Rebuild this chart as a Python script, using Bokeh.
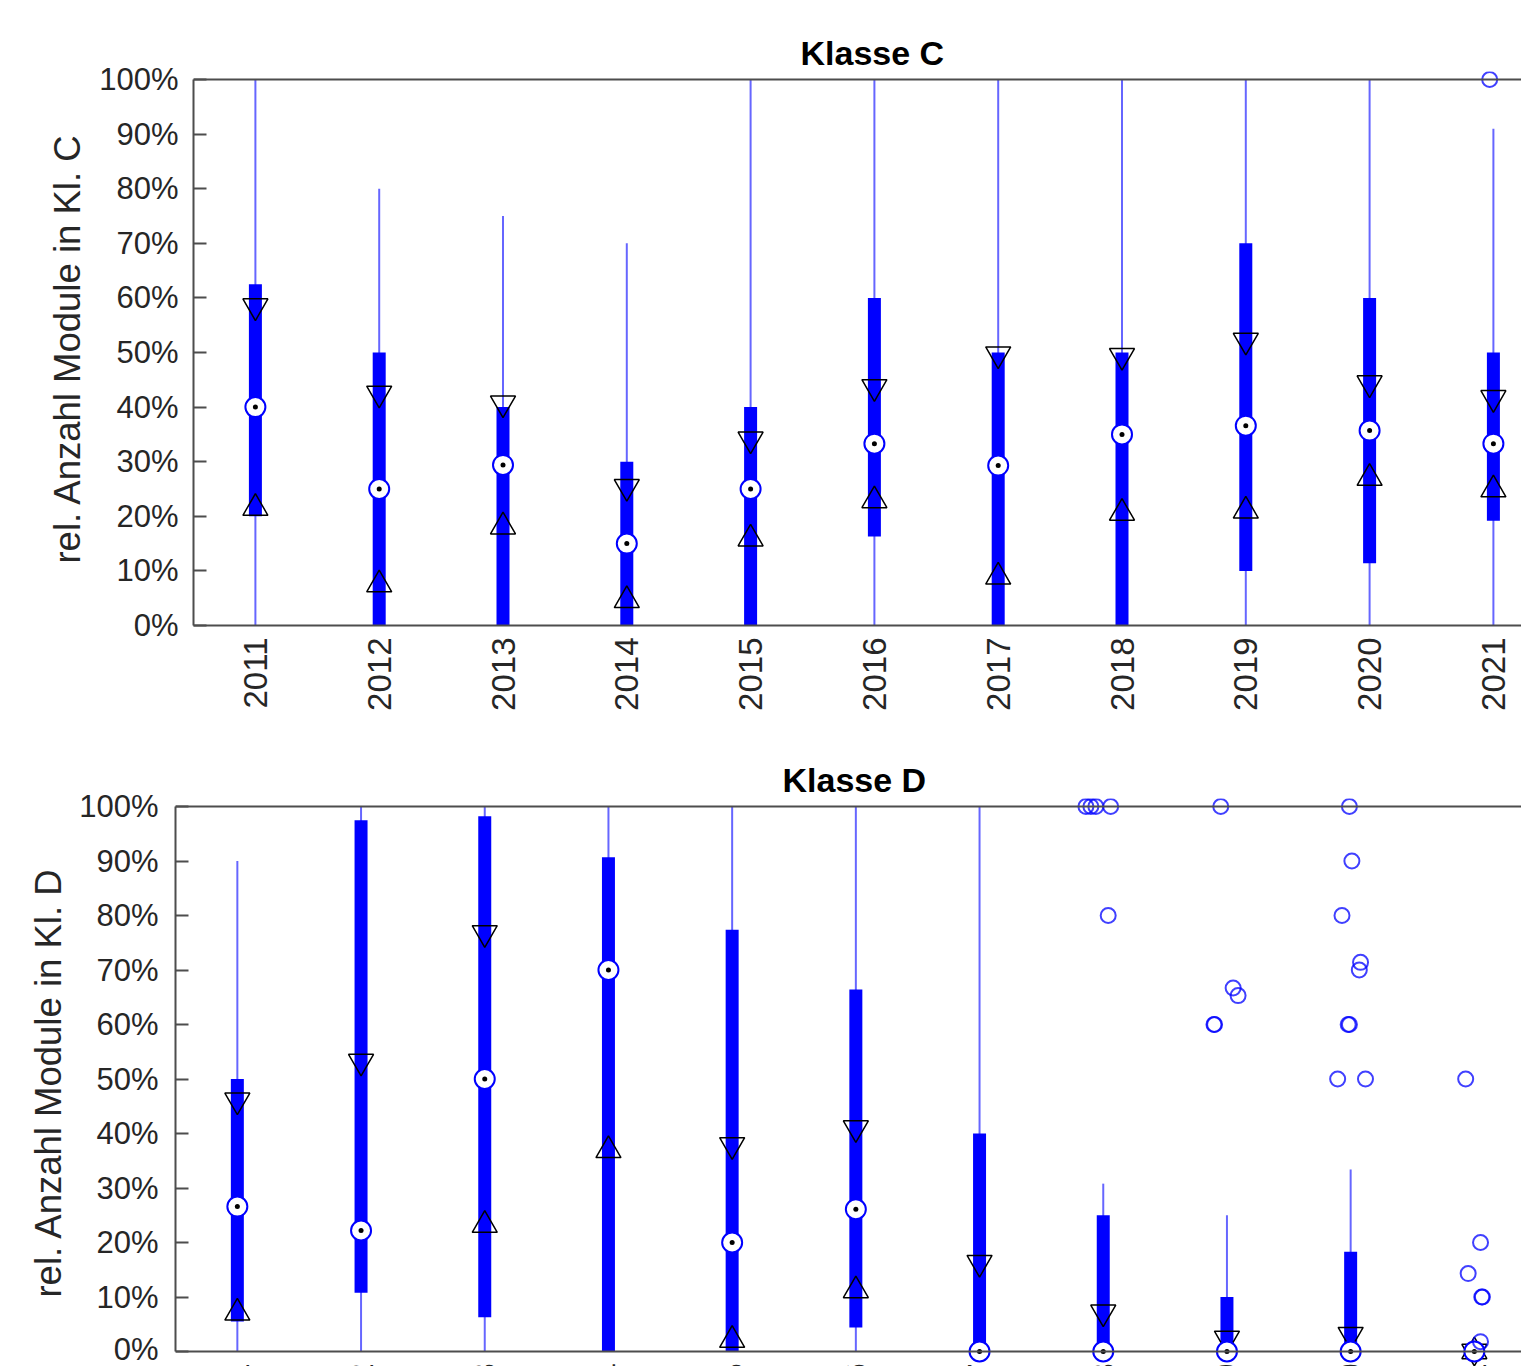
import math
from bokeh.plotting import figure
from bokeh.models import ColumnDataSource, FixedTicker, PrintfTickFormatter, Span, Range1d
from bokeh.embed import file_html
from bokeh.resources import INLINE

# ---------------- data (percent) ----------------
years = [2011, 2012, 2013, 2014, 2015, 2016, 2017, 2018, 2019, 2020, 2021]
year_labels = ["2011", "2012", "2013", "2014", "2015", "2016",
               "2017", "2018", "2019", "2020", "2021"]

# Klasse C
c_whisker_low  = [0, 0, 0, 0, 0, 0, 0, 0, 0, 0, 0]
c_q1           = [20.0, 0, 0, 0, 0, 16.3, 0, 0, 10.0, 11.4, 19.2]
c_median       = [40.0, 25.0, 29.4, 15.0, 25.0, 33.3, 29.3, 35.0, 36.6, 35.7, 33.3]
c_q3           = [62.5, 50.0, 40.0, 30.0, 40.0, 60.0, 50.0, 50.0, 70.0, 60.0, 50.0]
c_whisker_high = [100, 80, 75, 70, 100, 100, 100, 100, 100, 100, 91]
c_notch_low    = [21.5, 7.5, 18.1, 4.6, 15.9, 22.9, 8.9, 20.6, 21.0, 27.0, 24.9]
c_notch_high   = [58.5, 42.5, 40.7, 25.4, 34.1, 43.7, 49.7, 49.4, 52.2, 44.4, 41.7]
c_out_year     = [2021]
c_out_value    = [100.0]
c_out_jitter   = [-0.03]

# Klasse D
d_whisker_low  = [0, 0, 0, 0, 0, 0, 0, 0, 0, 0, 0]
d_q1           = [5.5, 10.8, 6.3, 0, 0, 4.4, 0, 0, 0, 0, 0]
d_median       = [26.6, 22.2, 50.0, 70.0, 20.0, 26.1, 0, 0, 0, 0, 0]
d_q3           = [50.0, 97.5, 98.2, 90.7, 77.4, 66.4, 40.0, 25.0, 10.0, 18.3, 0]
d_whisker_high = [90, 100, 100, 100, 100, 100, 100, 30.8, 25.0, 33.4, 0]
d_notch_low    = [7.1, -8.8, 23.2, 36.9, 2.1, 11.2, -16.3, -7.2, -2.4, -3.1, 0]
d_notch_high   = [46.1, 53.2, 76.8, 103.1, 37.9, 41.0, 16.3, 7.2, 2.4, 3.1, 0]
d_out_year     = [2018, 2018, 2018, 2018, 2018,
                  2019, 2019, 2019, 2019, 2019,
                  2020, 2020, 2020, 2020, 2020, 2020, 2020, 2020, 2020,
                  2021, 2021, 2021, 2021, 2021, 2021]
d_out_value    = [100, 100, 100, 100, 80,
                  100, 66.7, 65.3, 60, 60,
                  100, 90, 80, 71.4, 70, 60, 60, 50, 50,
                  50, 20, 14.3, 10, 10, 1.8]
d_out_jitter   = [-0.14, -0.10, -0.06, 0.06, 0.04,
                  -0.05, 0.05, 0.09, -0.105, -0.10,
                  -0.01, 0.01, -0.07, 0.08, 0.07, -0.02, -0.01, -0.105, 0.12,
                  -0.07, 0.05, -0.05, 0.065, 0.06, 0.05]

# ---------------- style ----------------
FONT = "Liberation Sans"
AX_COL = "#4d4d4d"
TXT_COL = "#262626"
BLUE = "#0000ff"
UNIT = 123.8          # px per category
BOX_W = 13 / UNIT
PAGE_W = 1521
NAN = float("nan")


def visible(vals):
    # like MATLAB clipping: markers whose centre lies outside the axes are not drawn
    return [v if 0 <= v <= 100 else NAN for v in vals]


def style_axes(p, title, ylabel, ylabel_standoff, tick_standoff, title_offset):
    p.outline_line_color = None
    p.background_fill_color = "white"
    p.border_fill_color = "white"
    p.xgrid.visible = False
    p.ygrid.visible = False
    p.title.text = title
    p.title.text_font = FONT
    p.title.text_font_size = "34px"
    p.title.text_font_style = "bold"
    p.title.text_color = "black"
    p.title.align = "left"
    p.title.offset = title_offset
    p.title.standoff = 0
    ya = p.yaxis[0]
    ya.ticker = FixedTicker(ticks=list(range(0, 101, 10)))
    ya.formatter = PrintfTickFormatter(format="%d%%")
    ya.bounds = (0, 100)
    ya.major_tick_in = 13
    ya.major_tick_out = 0
    ya.minor_tick_line_color = None
    ya.axis_line_color = AX_COL
    ya.axis_line_width = 2
    ya.major_tick_line_color = AX_COL
    ya.major_tick_line_width = 2
    ya.major_label_text_font = FONT
    ya.major_label_text_font_size = "31px"
    ya.major_label_text_color = TXT_COL
    ya.major_label_standoff = tick_standoff
    ya.axis_label = ylabel
    ya.axis_label_text_font = FONT
    ya.axis_label_text_font_size = "36.5px"
    ya.axis_label_text_font_style = "normal"
    ya.axis_label_text_color = TXT_COL
    ya.axis_label_standoff = ylabel_standoff
    p.add_layout(Span(location=100, dimension="width", line_color=AX_COL, line_width=2))


def draw_boxes(p, wlo, q1, med, q3, whi, nlo, nhi, oyear, oval, ojit):
    src = ColumnDataSource(dict(x=years, wlo=wlo, q1=q1, med=med, q3=q3,
                                whi=whi, nlo=visible(nlo), nhi=visible(nhi)))
    p.segment(x0="x", y0="wlo", x1="x", y1="whi", source=src,
              line_color=BLUE, line_alpha=0.6, line_width=2)
    p.vbar(x="x", bottom="q1", top="q3", width=BOX_W, source=src,
           fill_color=BLUE, line_color=None)
    p.scatter(x="x", y="nhi", marker="inverted_triangle", size=25, source=src,
              fill_color=None, line_color="black", line_width=1.5)
    p.scatter(x="x", y="nlo", marker="triangle", size=25, source=src,
              fill_color=None, line_color="black", line_width=1.5)
    p.scatter(x="x", y="med", marker="circle", size=20, source=src,
              fill_color="white", line_color=BLUE, line_width=2)
    p.scatter(x="x", y="med", marker="circle", size=5, source=src,
              fill_color="black", line_color=None)
    osrc = ColumnDataSource(dict(x=[yy + j for yy, j in zip(oyear, ojit)], y=oval))
    p.scatter(x="x", y="y", marker="circle", size=15, source=osrc,
              fill_color=None, line_color=BLUE, line_alpha=0.75, line_width=2)


# ---------------- top panel: Klasse C ----------------
t_h, t_left, t_top, t_frame_h, t_px = 720, 193, 71, 554, 546.0 / 100
p1 = figure(width=PAGE_W, height=t_h, output_backend="svg", toolbar_location=None,
            x_range=Range1d(2010.5, 2010.5 + (PAGE_W - t_left) / UNIT),
            y_range=Range1d(0, t_frame_h / t_px))
p1.min_border_left = t_left
p1.min_border_right = 0
p1.min_border_top = t_top
p1.min_border_bottom = t_h - t_top - t_frame_h
style_axes(p1, "Klasse C", "rel. Anzahl Module in Kl. C", 8, 15, 607)
xa = p1.xaxis[0]
xa.ticker = FixedTicker(ticks=years)
xa.major_label_overrides = {y: s for y, s in zip(years, year_labels)}
xa.major_label_orientation = math.pi / 2
xa.major_tick_in = 0
xa.major_tick_out = 0
xa.minor_tick_line_color = None
xa.axis_line_color = AX_COL
xa.axis_line_width = 2
xa.major_label_text_font = FONT
xa.major_label_text_font_size = "33px"
xa.major_label_text_color = TXT_COL
xa.major_label_standoff = 12
draw_boxes(p1, c_whisker_low, c_q1, c_median, c_q3, c_whisker_high,
           c_notch_low, c_notch_high, c_out_year, c_out_value, c_out_jitter)

# ---------------- bottom panel: Klasse D ----------------
b_h, b_left, b_top = 646, 175, 78
b_frame_h = b_h - b_top
b_px = 545.0 / 100
b_below0 = 15 / b_px
p2 = figure(width=PAGE_W, height=b_h, output_backend="svg", toolbar_location=None,
            x_axis_location=None,
            x_range=Range1d(2010.5, 2010.5 + (PAGE_W - b_left) / 123.7),
            y_range=Range1d(-b_below0, -b_below0 + b_frame_h / b_px))
p2.min_border_left = b_left
p2.min_border_right = 0
p2.min_border_top = b_top
p2.min_border_bottom = 0
style_axes(p2, "Klasse D", "rel. Anzahl Module in Kl. D", 7, 17, 607)
p2.add_layout(Span(location=0, dimension="width", line_color=AX_COL, line_width=2))
draw_boxes(p2, d_whisker_low, d_q1, d_median, d_q3, d_whisker_high,
           d_notch_low, d_notch_high, d_out_year, d_out_value, d_out_jitter)
# year labels of the lower panel (mostly cut off by the bottom edge, as in the original)
p2.text(x=years, y=[-12 / b_px] * len(years), text=year_labels, angle=math.pi / 2,
        text_align="right", text_baseline="middle", text_font_size="33px",
        text_color=TXT_COL, text_font={"value": FONT})

open("out.html", "w").write(file_html([p1, p2], INLINE))
